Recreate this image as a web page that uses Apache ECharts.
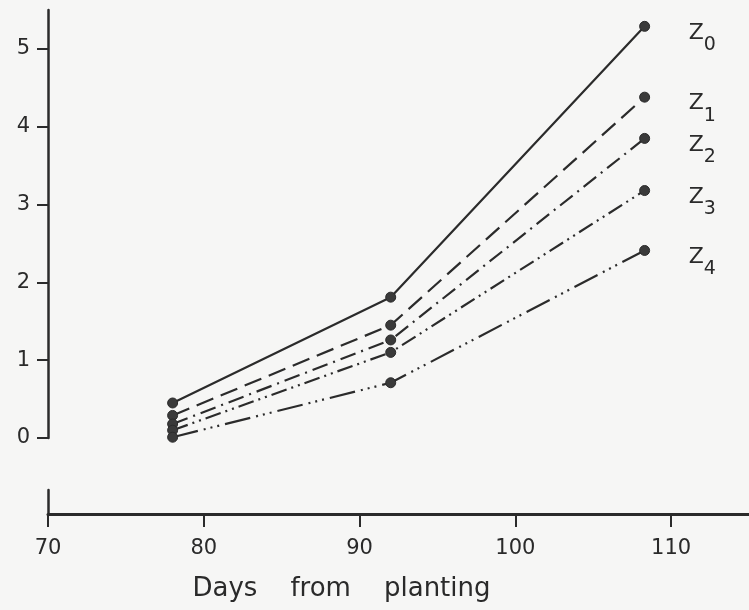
<!DOCTYPE html>
<html>
<head>
<meta charset="utf-8">
<script src="https://cdn.jsdelivr.net/npm/echarts@6/dist/echarts.min.js"></script>
<style>
html,body{margin:0;padding:0;background:#f6f6f5;}
#chart{width:749px;height:610px;}
</style>
</head>
<body>
<div id="chart"></div>
<script>
// Days from planting (x positions of the three harvests)
const days = [78, 92, 108.3];
// Series values
const z0 = [0.45, 1.81, 5.29];
const z1 = [0.29, 1.45, 4.38];
const z2 = [0.18, 1.26, 3.85];
const z3 = [0.10, 1.10, 3.18];
const z4 = [0.01, 0.71, 2.41];
const seriesNames = ['0', '1', '2', '3', '4'];
const seriesValues = [z0, z1, z2, z3, z4];
const yTicks = [0, 1, 2, 3, 4, 5];
const xTicks = [70, 80, 90, 100, 110];
const axisTitle = 'Days    from    planting';

const ink = '#2b2b2b';
const txt = '#2a2a2a';
const font = 'DejaVu Sans';
const dashes = [
  'solid',
  [18, 8],
  [16, 6, 2, 6],
  [16, 5, 2, 5, 2, 5],
  [26, 6, 2, 5, 2, 5, 2, 6]
];

const chart = echarts.init(document.getElementById('chart'));
const series = seriesValues.map((vals, i) => ({
  type: 'line',
  name: 'Z' + seriesNames[i],
  xAxisIndex: 0,
  yAxisIndex: 0,
  data: vals.map((v, j) => [days[j], v]),
  symbol: 'circle',
  symbolSize: 10,
  clip: false,
  itemStyle: { color: '#3a3a3a', borderColor: ink, borderWidth: 1 },
  lineStyle: { color: ink, width: 2.2, type: dashes[i] },
  endLabel: {
    show: true,
    distance: 44,
    offset: [0, 8],
    formatter: () => '{z|Z}{s|' + seriesNames[i] + '}',
    rich: {
      z: { fontFamily: font, fontSize: 22, color: txt, verticalAlign: 'top', lineHeight: 25 },
      s: { fontFamily: font, fontSize: 19, color: txt, verticalAlign: 'top', lineHeight: 23, padding: [14, 0, 0, 0] }
    }
  },
  emphasis: { disabled: true },
  animation: false
}));

chart.setOption({
  backgroundColor: '#f6f6f5',
  animation: false,
  grid: [
    // plotting area: y from 0 up
    { left: 48, right: 0, top: 10, bottom: 172, outerBoundsMode: 'none', containLabel: false },
    // detached x axis with the broken stub of the y axis
    { left: 48, right: 0, top: 490, bottom: 96, outerBoundsMode: 'none', containLabel: false }
  ],
  xAxis: [
    {
      gridIndex: 0,
      type: 'value',
      min: xTicks[0],
      max: 115,
      interval: 10,
      show: false
    },
    {
      gridIndex: 1,
      type: 'value',
      min: xTicks[0],
      max: 115,
      interval: 10,
      position: 'bottom',
      axisLine: { show: true, onZero: false, lineStyle: { color: ink, width: 3 } },
      axisTick: { show: true, inside: false, length: 13, lineStyle: { color: ink, width: 2 } },
      axisLabel: { show: true, margin: 24, fontFamily: font, fontSize: 21, color: txt, showMaxLabel: false,
        formatter: v => (xTicks.indexOf(v) >= 0 ? String(v) : '') },
      splitLine: { show: false },
      name: axisTitle,
      nameLocation: 'middle',
      nameGap: 62,
      nameTextStyle: { fontFamily: font, fontSize: 26, color: txt, padding: [0, 114, 0, 0] }
    }
  ],
  yAxis: [
    {
      gridIndex: 0,
      type: 'value',
      min: yTicks[0],
      max: 5.5,
      interval: 1,
      axisLine: { show: true, onZero: false, lineStyle: { color: ink, width: 2.5 } },
      axisTick: { show: true, inside: false, length: 11, lineStyle: { color: ink, width: 2 } },
      axisLabel: { show: true, margin: 18, fontFamily: font, fontSize: 21, color: txt, showMaxLabel: false,
        formatter: v => (yTicks.indexOf(v) >= 0 ? String(v) : '') },
      splitLine: { show: false }
    },
    {
      gridIndex: 1,
      type: 'value',
      min: 0,
      max: 1,
      axisLine: { show: true, onZero: false, lineStyle: { color: ink, width: 2.5 } },
      axisTick: { show: false },
      axisLabel: { show: false },
      splitLine: { show: false }
    }
  ],
  series: series
});
</script>
</body>
</html>
